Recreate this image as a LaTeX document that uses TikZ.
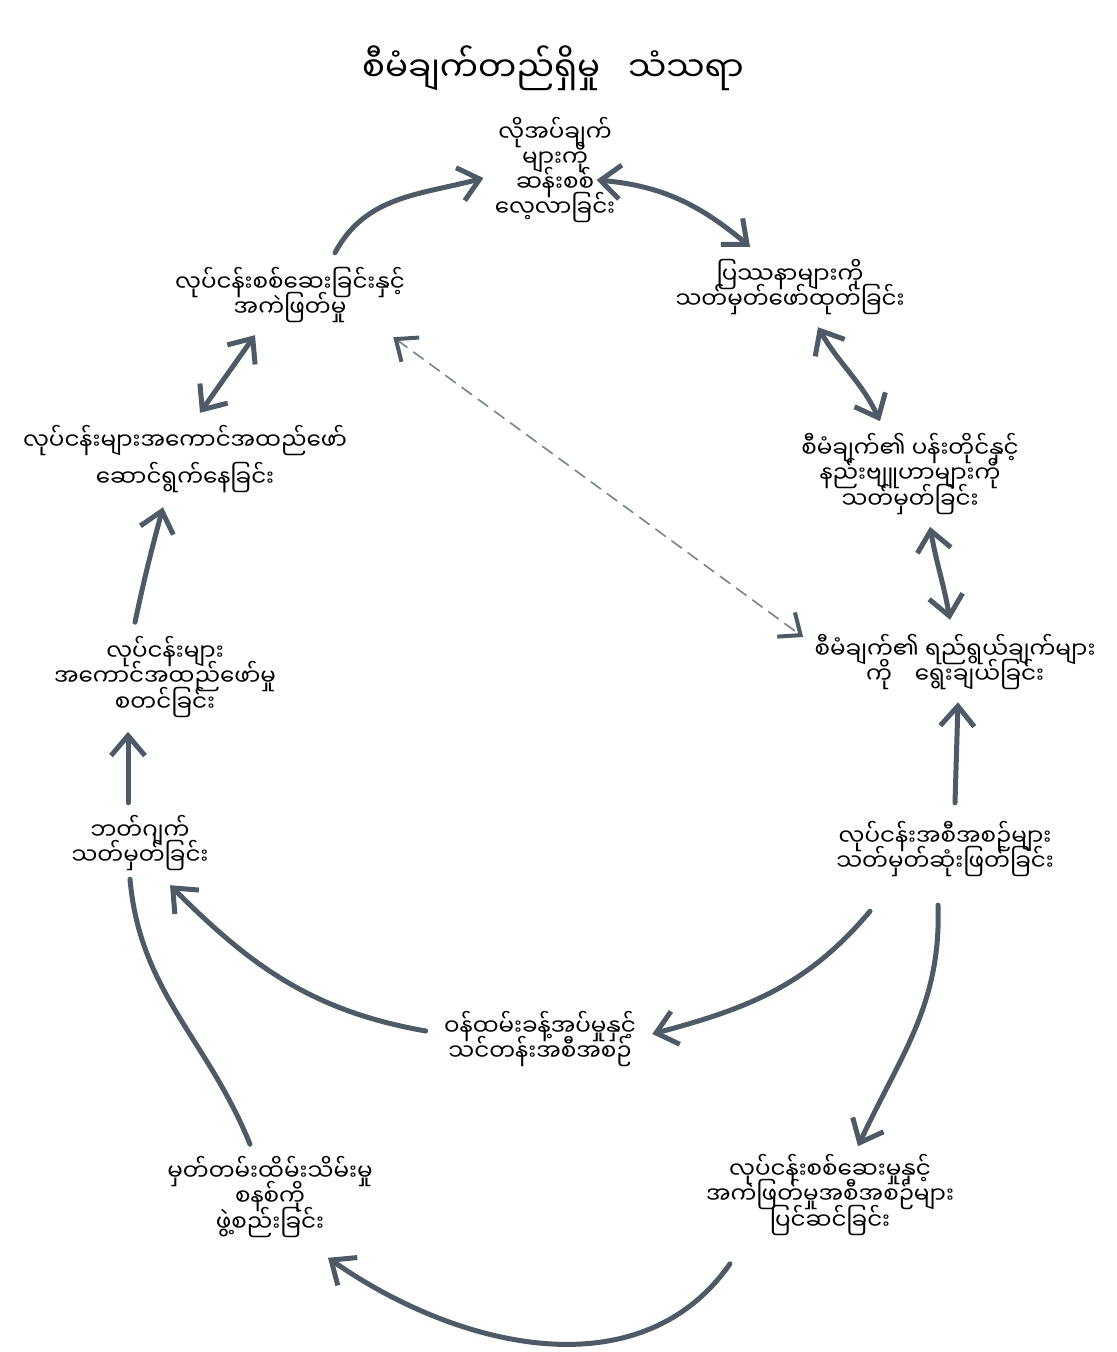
\documentclass[tikz,border=0pt]{standalone}
\usepackage{fontspec}
\usetikzlibrary{arrows.meta}
\newfontfamily\mya[Script=Myanmar]{Noto Sans Myanmar UI}
\newcommand\stagefont{\mya\fontsize{11.5}{12.6}\selectfont\lineskiplimit-20pt\relax}
\definecolor{arrowgray}{RGB}{78,90,101}
\tikzset{
  stage/.style={font=\stagefont,align=center,inner sep=3pt},
  flowarrow/.style={line width=2.5pt,draw=arrowgray,-{Straight Barb[length=10pt,width=17pt]}},
  twoway/.style={line width=2.5pt,draw=arrowgray,{Straight Barb[length=10pt,width=17pt]}-{Straight Barb[length=10pt,width=17pt]}},
  plainline/.style={line width=2.5pt,draw=arrowgray},
  dashlink/.style={line width=0.8pt,draw=arrowgray!75,dash pattern=on 6pt off 4pt,
    {Straight Barb[length=9pt,width=15pt,line width=2pt,color=arrowgray]}-{Straight Barb[length=9pt,width=15pt,line width=2pt,color=arrowgray]}}
}

\begin{document}
\begin{tikzpicture}[x=0.5pt,y=-0.5pt,line cap=round,line join=round]
  \useasboundingbox (0,0) rectangle (1116,1352);
  % title
  \node[font=\mya\fontsize{17}{20}\selectfont] (title) at (553,68) {စီမံချက်တည်ရှိမှု\hspace{14pt}သံသရာ};
  % stages of the cycle
  \node[stage] (need) at (555,170) {လိုအပ်ချက်\\များကို\\ဆန်းစစ်\\လေ့လာခြင်း};
  \node[stage] (problem) at (790,287) {ပြဿနာများကို\\သတ်မှတ်ဖော်ထုတ်ခြင်း};
  \node[stage] (goal) at (910,474) {စီမံချက်၏ ပန်းတိုင်နှင့်\\နည်းဗျူဟာများကို\\သတ်မှတ်ခြင်း};
  \node[stage] (objective) at (955,662) {စီမံချက်၏ ရည်ရွယ်ချက်များ\\ကို\quad ရွေးချယ်ခြင်း};
  \node[stage] (plan) at (945,849) {လုပ်ငန်းအစီအစဉ်များ\\သတ်မှတ်ဆုံးဖြတ်ခြင်း};
  \node[stage] (monitor) at (830,1195) {လုပ်ငန်းစစ်ဆေးမှုနှင့်\\အကဲဖြတ်မှုအစီအစဉ်များ\\ပြင်ဆင်ခြင်း};
  \node[stage] (staff) at (540,1039) {ဝန်ထမ်းခန့်အပ်မှုနှင့်\\သင်တန်းအစီအစဉ်};
  \node[stage] (records) at (270,1197) {မှတ်တမ်းထိမ်းသိမ်းမှု\\စနစ်ကို\\ဖွဲ့စည်းခြင်း};
  \node[stage] (budget) at (140,843) {ဘတ်ဂျက်\\သတ်မှတ်ခြင်း};
  \node[stage] (start) at (165,677) {လုပ်ငန်းများ\\အကောင်အထည်ဖော်မှု\\စတင်ခြင်း};
  \node[stage] (implement) at (185,459) {လုပ်ငန်းများအကောင်အထည်ဖော်\\[6pt]ဆောင်ရွက်နေခြင်း};
  \node[stage] (evaluate) at (290,295) {လုပ်ငန်းစစ်ဆေးခြင်းနှင့်\\အကဲဖြတ်မှု};
  % connectors
  \draw[flowarrow] ([shift={(45,-8)}]evaluate.north) to[out=62,in=195] ([shift={(-5,8)}]need.west);
  \draw[twoway] ([shift={(-25,10)}]need.east) to[out=-5,in=140] ([shift={(-40,-6)}]problem.north);
  \draw[twoway] ([shift={(28,6)}]problem.south) to[out=-60,in=115] ([shift={(-30,-6)}]goal.north);
  \draw[twoway] ([shift={(20,6)}]goal.south) to[out=-80,in=100] ([shift={(-5,-8)}]objective.north);
  \draw[flowarrow] ([shift={(10,-12)}]plan.north) -- ([shift={(3,6)}]objective.south);
  \draw[flowarrow] ([shift={(-75,28)}]plan.south) to[out=-130,in=15] ([shift={(10,-5)}]staff.east);
  \draw[flowarrow] ([shift={(-7,22)}]plan.south) to[out=-88,in=65] ([shift={(28,-2)}]monitor.north);
  \draw[flowarrow] ([shift={(-100,22)}]monitor.south) to[out=-125,in=-35] ([shift={(58,14)}]records.south);
  \draw[plainline] ([shift={(-20,-6)}]records.north) to[out=112,in=-85] ([shift={(-10,2)}]budget.south);
  \draw[flowarrow] ([shift={(-12,-8)}]staff.west) to[out=170,in=-45] ([shift={(30,8)}]budget.south);
  \draw[flowarrow] ([shift={(-12,-6)}]budget.north) -- ([shift={(-37,8)}]start.south);
  \draw[flowarrow] ([shift={(-30,-8)}]start.north) to[out=78,in=-105] ([shift={(-22,8)}]implement.south);
  \draw[twoway] ([shift={(15,-6)}]implement.north) -- ([shift={(-35,6)}]evaluate.south);
  \draw[dashlink] ([shift={(-18,8)}]evaluate.south east) -- ([shift={(-5,-25)}]objective.west);
\end{tikzpicture}
\end{document}
